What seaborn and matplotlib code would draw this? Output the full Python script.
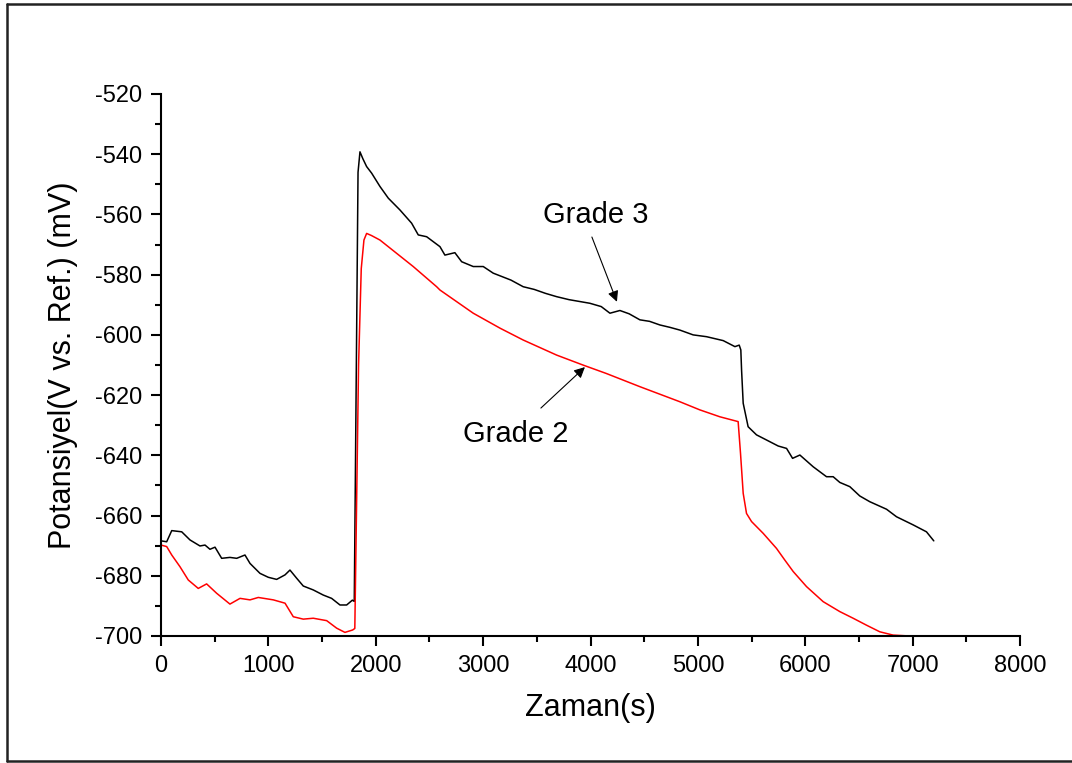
import numpy as np
import pandas as pd
import matplotlib
matplotlib.use("Agg")
import matplotlib.pyplot as plt
from matplotlib.lines import Line2D
from matplotlib.ticker import MultipleLocator
import seaborn as sns

# ---- data ----
grade3_t = [0, 53, 100, 193, 270, 363, 410, 456, 503, 565, 642, 705, 782, 829, 922, 999,
            1077, 1155, 1201, 1263, 1325, 1418, 1511, 1589, 1667, 1729, 1782, 1800, 1835,
            1853, 1880, 1915, 1962, 2039, 2117, 2225, 2334, 2396, 2474, 2598, 2644, 2737,
            2800, 2908, 3001, 3094, 3259, 3373, 3476, 3580, 3684, 3800, 3994, 4100, 4181,
            4274, 4360, 4460, 4550, 4646, 4740, 4832, 4956, 5081, 5236, 5345, 5385, 5400,
            5407, 5422, 5468, 5546, 5639, 5748, 5826, 5882, 5950, 6074, 6198, 6260, 6322,
            6415, 6508, 6601, 6757, 6850, 7005, 7129, 7197]
grade3_v = [-668.4, -668.7, -665.0, -665.4, -668.1, -670.1, -669.8, -671.2, -670.5, -674.2,
            -673.9, -674.2, -673.1, -675.9, -679.2, -680.5, -681.2, -679.7, -678.1, -680.8,
            -683.4, -684.7, -686.4, -687.5, -689.7, -689.7, -688.1, -688.5, -546.0, -539.2,
            -541.5, -544.1, -546.3, -550.7, -554.6, -558.5, -562.9, -566.8, -567.4, -570.7,
            -573.5, -572.7, -575.7, -577.3, -577.3, -579.5, -581.8, -584.0, -584.9, -586.2,
            -587.3, -588.3, -589.5, -590.6, -592.8, -591.9, -593.0, -595.0, -595.5, -596.7,
            -597.5, -598.4, -600.0, -600.6, -601.9, -603.9, -603.4, -605.0, -611.7, -622.7,
            -630.5, -633.2, -634.9, -636.9, -637.7, -641.0, -639.9, -643.8, -647.1, -647.1,
            -649.0, -650.4, -653.5, -655.4, -657.9, -660.4, -663.1, -665.4, -668.4]

grade2_t = [0, 53, 100, 177, 254, 347, 425, 518, 642, 736, 829, 906, 1046, 1155, 1232,
            1325, 1418, 1543, 1636, 1713, 1785, 1805, 1820, 1840, 1865, 1890, 1915, 1960,
            2039, 2194, 2349, 2567, 2598, 2908, 3159, 3373, 3684, 3929, 4146, 4460, 4832,
            5018, 5205, 5375, 5397, 5422, 5453, 5500, 5608, 5732, 5810, 5888, 6012, 6167,
            6322, 6446, 6570, 6694, 6818, 6974, 7000]
grade2_v = [-669.8, -670.3, -673.1, -677.0, -681.4, -684.2, -682.7, -685.8, -689.4, -687.5,
            -688.0, -687.2, -688.0, -689.1, -693.6, -694.4, -694.1, -694.9, -697.4, -698.8,
            -698.0, -697.5, -660.0, -610.0, -578.0, -568.5, -566.3, -567.0, -568.5, -572.9,
            -577.3, -584.0, -585.1, -592.8, -597.8, -601.7, -606.7, -610.0, -612.8, -617.2,
            -622.2, -624.9, -627.2, -628.8, -639.3, -652.6, -659.3, -662.0, -665.9, -670.9,
            -674.8, -678.6, -683.6, -688.6, -691.9, -694.1, -696.4, -698.6, -699.7, -700.0,
            -700.3]

series_names = ["Grade 3", "Grade 2"]
series_colors = ["black", "red"]

xticks = [0, 1000, 2000, 3000, 4000, 5000, 6000, 7000, 8000]
yticks = [-700, -680, -660, -640, -620, -600, -580, -560, -540, -520]

df = pd.concat([
    pd.DataFrame({"t": grade3_t, "v": grade3_v, "grade": series_names[0]}),
    pd.DataFrame({"t": grade2_t, "v": grade2_v, "grade": series_names[1]}),
], ignore_index=True)

sns.set_theme(style="ticks")
plt.rcParams["font.family"] = ["Liberation Sans", "DejaVu Sans"]
plt.rcParams["axes.unicode_minus"] = False

fig = plt.figure(figsize=(10.72, 7.63), dpi=100)
ax = fig.add_axes([161 / 1072, 1 - 636 / 763, (1020 - 161) / 1072, (636 - 94) / 763])

sns.lineplot(data=df, x="t", y="v", hue="grade", palette=dict(zip(series_names, series_colors)),
             ax=ax, legend=False, linewidth=1.1, sort=False, estimator=None)

ax.set_xlim(0, 8000)
ax.set_ylim(-700, -520)
ax.set_xticks(xticks)
ax.set_yticks(yticks)
ax.xaxis.set_minor_locator(MultipleLocator(500))
ax.yaxis.set_minor_locator(MultipleLocator(10))
ax.tick_params(which="major", direction="out", length=7.5, width=1.5, labelsize=17,
               colors="black", labelcolor="black", pad=6)
ax.tick_params(which="minor", direction="out", length=4, width=1.5, colors="black")
for s in ["top", "right"]:
    ax.spines[s].set_visible(False)
for s in ["left", "bottom"]:
    ax.spines[s].set_linewidth(1.5)
    ax.spines[s].set_color("black")

ax.set_xlabel("Zaman(s)", fontsize=22, labelpad=12, color="black")
ax.set_ylabel("Potansiyel(V vs. Ref.) (mV)", fontsize=22, labelpad=12, color="black")

arrow = dict(arrowstyle="-|>", lw=0.8, color="black", mutation_scale=16, shrinkA=0, shrinkB=0)
ax.text(4050, -560.2, "Grade 3", fontsize=21, color="black", ha="center", va="center")
ax.annotate("", xy=(4246, -589), xytext=(4013, -567.5), arrowprops=arrow)
ax.text(3305, -632.9, "Grade 2", fontsize=21, color="black", ha="center", va="center")
ax.annotate("", xy=(3948, -610.7), xytext=(3538, -624.3), arrowprops=arrow)

# outer frame
for (x0, y0, x1, y1) in [(7, 4, 1072, 4), (7, 4, 7, 761), (7, 761, 1072, 761)]:
    fig.add_artist(Line2D([x0 / 1072, x1 / 1072], [1 - y0 / 763, 1 - y1 / 763],
                          transform=fig.transFigure, color="#222222", lw=1.8))

fig.savefig("out.png", dpi=100)
